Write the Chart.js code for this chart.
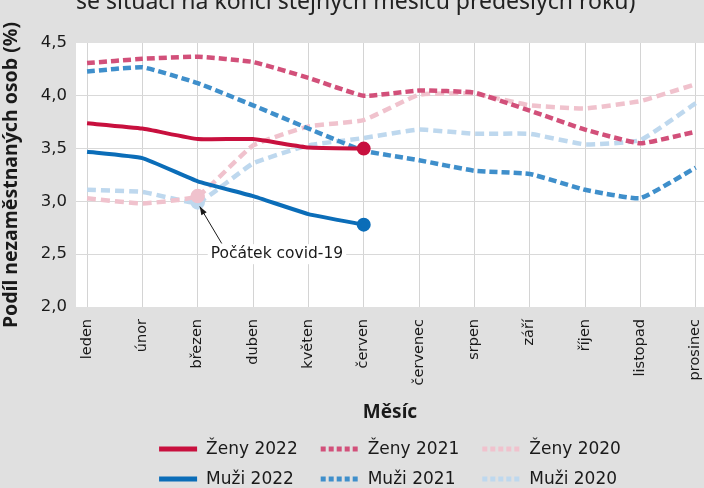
<!DOCTYPE html>
<html>
<head>
<meta charset="utf-8">
<script src="https://cdn.jsdelivr.net/npm/chart.js@4"></script>
<style>
  html, body { margin: 0; padding: 0; background: #e0e0e0; }
  #wrap { width: 704px; height: 488px; position: relative; background: #e0e0e0; }
</style>
</head>
<body>
<div id="wrap"><canvas id="chart"></canvas></div>
<script>
const titleText = 'se situací na konci stejných měsíců předešlých roků)';
const months = ['leden', 'únor', 'březen', 'duben', 'květen', 'červen', 'červenec', 'srpen', 'září', 'říjen', 'listopad', 'prosinec'];
const yTicks = [2.0, 2.5, 3.0, 3.5, 4.0, 4.5];

const zeny2022 = [3.74, 3.69, 3.59, 3.59, 3.51, 3.50];
const muzi2022 = [3.47, 3.41, 3.19, 3.05, 2.88, 2.78];
const zeny2021 = [4.31, 4.35, 4.37, 4.32, 4.17, 4.00, 4.05, 4.03, 3.86, 3.68, 3.55, 3.66];
const muzi2021 = [4.23, 4.27, 4.12, 3.91, 3.69, 3.48, 3.39, 3.29, 3.26, 3.11, 3.03, 3.32];
const zeny2020 = [3.03, 2.98, 3.05, 3.53, 3.71, 3.77, 4.01, 4.02, 3.91, 3.88, 3.95, 4.11];
const muzi2020 = [3.11, 3.09, 2.99, 3.36, 3.53, 3.60, 3.68, 3.64, 3.64, 3.54, 3.58, 3.93];

const covidIndex = 2; // březen 2020
const covidLabel = 'Počátek covid-19';

const FONT = '"Noto Sans", sans-serif';
const WIDE = '"DejaVu Sans", sans-serif';

function pts(arr) {
  return arr.map((v, i) => ({ x: i, y: v }));
}

// marker only on last point (2022) or on covid start (2020)
const lastPoint = ctx => ctx.dataIndex === ctx.dataset.data.length - 1 ? 5 : 0;
const covidPoint = ctx => ctx.dataIndex === covidIndex ? 5 : 0;

const datasets = [
  { label: 'Ženy 2022', data: pts(zeny2022), borderColor: '#c8103e', backgroundColor: '#c8103e', borderWidth: 4, pointRadius: lastPoint, legendDash: [] },
  { label: 'Muži 2022', data: pts(muzi2022), borderColor: '#0b6db8', backgroundColor: '#0b6db8', borderWidth: 4, pointRadius: lastPoint, legendDash: [] },
  { label: 'Ženy 2021', data: pts(zeny2021), borderColor: '#d2507a', backgroundColor: '#d2507a', borderWidth: 4.5, borderDash: [8, 4], pointRadius: 0, legendDash: [5, 3] },
  { label: 'Muži 2021', data: pts(muzi2021), borderColor: '#3f8fcb', backgroundColor: '#3f8fcb', borderWidth: 4.5, borderDash: [8, 4], pointRadius: 0, legendDash: [5, 3] },
  { label: 'Ženy 2020', data: pts(zeny2020), borderColor: '#f0c2cd', backgroundColor: '#f0c2cd', borderWidth: 4.5, borderDash: [9, 5], pointRadius: covidPoint, legendDash: [5, 3] },
  { label: 'Muži 2020', data: pts(muzi2020), borderColor: '#bed8ee', backgroundColor: '#bed8ee', borderWidth: 4.5, borderDash: [9, 5], pointRadius: covidPoint, legendDash: [5, 3] }
];

// white plot background + cut-off title line
const backdrop = {
  id: 'backdrop',
  beforeDraw(chart) {
    const { ctx, chartArea: a } = chart;
    ctx.save();
    ctx.fillStyle = '#ffffff';
    ctx.fillRect(a.left, a.top, a.right - a.left, a.bottom - a.top);
    ctx.fillStyle = '#222222';
    ctx.font = '23px ' + FONT;
    ctx.textBaseline = 'alphabetic';
    ctx.fillText(titleText, 76, 9);
    ctx.restore();
  }
};

// arrow + label pointing at the covid start
const covidNote = {
  id: 'covidNote',
  afterDatasetsDraw(chart) {
    const { ctx, scales: { x, y } } = chart;
    const px = x.getPixelForValue(covidIndex);
    const py = y.getPixelForValue(muzi2020[covidIndex]);
    const tipX = px + 2, tipY = py + 4;
    const startX = tipX + 22, startY = tipY + 37;
    ctx.save();
    ctx.font = '15.5px ' + WIDE;
    const w = ctx.measureText(covidLabel).width;
    const tx = px + 13, ty = y.getPixelForValue(2.5);
    ctx.fillStyle = '#ffffff';
    ctx.fillRect(tx - 3, ty - 10, w + 6, 20);
    ctx.fillStyle = '#1a1a1a';
    ctx.textBaseline = 'middle';
    ctx.fillText(covidLabel, tx, ty);
    ctx.strokeStyle = '#1a1a1a';
    ctx.lineWidth = 1;
    ctx.beginPath();
    ctx.moveTo(startX, startY);
    ctx.lineTo(tipX, tipY);
    ctx.stroke();
    const ang = Math.atan2(tipY - startY, tipX - startX);
    ctx.beginPath();
    ctx.moveTo(tipX, tipY);
    ctx.lineTo(tipX - 9 * Math.cos(ang - 0.35), tipY - 9 * Math.sin(ang - 0.35));
    ctx.lineTo(tipX - 9 * Math.cos(ang + 0.35), tipY - 9 * Math.sin(ang + 0.35));
    ctx.closePath();
    ctx.fill();
    ctx.restore();
  }
};

// legend: 3 columns x 2 rows (ženy on top, muži below)
const gridLegend = {
  id: 'gridLegend',
  afterDraw(chart) {
    const { ctx, chartArea: a } = chart;
    const ds = chart.data.datasets;
    const sample = 38, gap = 9, colGap = 23;
    ctx.save();
    ctx.font = '17px ' + WIDE;
    const cols = [];
    for (let c = 0; c < 3; c++) {
      const tw = Math.max(ctx.measureText(ds[c * 2].label).width, ctx.measureText(ds[c * 2 + 1].label).width);
      cols.push(sample + gap + tw);
    }
    const total = cols.reduce((s, v) => s + v, 0) + colGap * 2;
    let x0 = (a.left + a.right) / 2 - total / 2;
    const rows = [449, 479];
    ctx.textBaseline = 'middle';
    for (let c = 0; c < 3; c++) {
      for (let r = 0; r < 2; r++) {
        const d = ds[c * 2 + r];
        const yy = rows[r];
        ctx.strokeStyle = d.borderColor;
        ctx.lineWidth = 5;
        ctx.setLineDash(d.legendDash);
        ctx.beginPath();
        ctx.moveTo(x0, yy);
        ctx.lineTo(x0 + sample, yy);
        ctx.stroke();
        ctx.setLineDash([]);
        ctx.fillStyle = '#1a1a1a';
        ctx.fillText(d.label, x0 + sample + gap, yy + 1);
      }
      x0 += cols[c] + colGap;
    }
    ctx.restore();
  }
};

new Chart(document.getElementById('chart'), {
  type: 'line',
  data: { datasets: datasets },
  options: {
    responsive: true,
    maintainAspectRatio: false,
    animation: false,
    layout: { autoPadding: false, padding: { top: 43, right: 0, bottom: 62, left: 0 } },
    elements: {
      line: { tension: 0.12, fill: false },
      point: { hoverRadius: 5, borderWidth: 0 }
    },
    plugins: {
      legend: { display: false },
      title: { display: false },
      tooltip: { enabled: false }
    },
    scales: {
      x: {
        type: 'linear',
        min: -0.2,
        max: 11.15,
        afterBuildTicks: axis => { axis.ticks = months.map((m, i) => ({ value: i })); },
        afterFit: axis => { axis.height = 119; axis.paddingLeft = 0; axis.paddingRight = 0; },
        border: { display: false },
        grid: { color: '#d4d4d4', lineWidth: 1, drawTicks: false },
        ticks: {
          autoSkip: false,
          minRotation: 90,
          maxRotation: 90,
          padding: 12,
          color: '#1a1a1a',
          font: { family: WIDE, size: 14.5 },
          callback: v => months[v]
        },
        title: {
          display: true,
          text: 'Měsíc',
          color: '#1a1a1a',
          font: { family: FONT, size: 19, weight: 'bold' },
          padding: { top: 4, bottom: 2 }
        }
      },
      y: {
        min: 2,
        max: 4.5,
        afterBuildTicks: axis => { axis.ticks = yTicks.map(v => ({ value: v })); },
        afterFit: axis => { axis.width = 76; axis.paddingTop = 0; axis.paddingBottom = 0; },
        border: { display: false },
        grid: {
          drawTicks: false,
          lineWidth: 1,
          color: c => (c.tick && (c.tick.value === yTicks[0] || c.tick.value === yTicks[yTicks.length - 1])) ? 'rgba(0,0,0,0)' : '#d9d9d9'
        },
        ticks: {
          padding: 9,
          color: '#1a1a1a',
          font: { family: WIDE, size: 16.5 },
          callback: v => v.toFixed(1).replace('.', ',')
        },
        title: {
          display: true,
          text: 'Podíl nezaměstnaných osob (%)',
          color: '#1a1a1a',
          font: { family: FONT, size: 19.5, weight: 'bold' },
          padding: { top: 0, bottom: 0 }
        }
      }
    }
  },
  plugins: [backdrop, covidNote, gridLegend]
});
</script>
</body>
</html>
